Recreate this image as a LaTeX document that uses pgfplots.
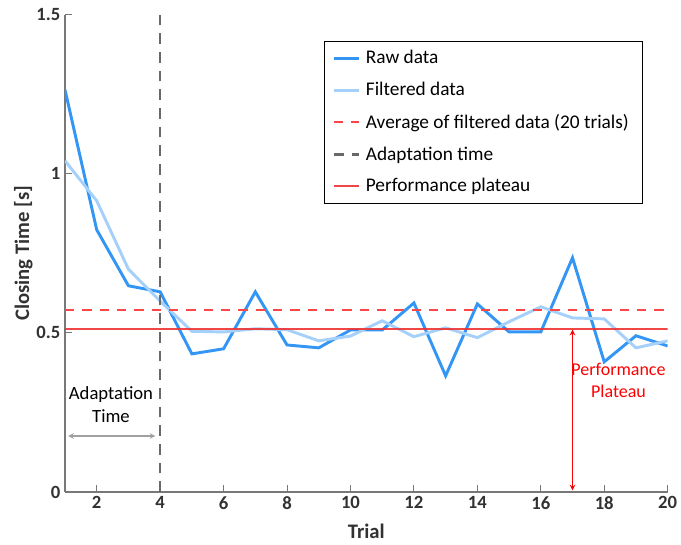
\documentclass[border=0pt]{standalone}
\usepackage{fontspec}
\setmainfont{Carlito}
\usepackage{pgfplots}
\pgfplotsset{compat=1.18}
\definecolor{rawblue}{RGB}{51,150,245}
\definecolor{filtblue}{RGB}{165,208,250}
\definecolor{avgred}{RGB}{255,70,70}
\definecolor{platred}{RGB}{240,50,50}
\definecolor{adgray}{RGB}{105,105,105}
\definecolor{axgray}{RGB}{120,120,120}
\definecolor{ticktext}{RGB}{50,50,50}
\begin{document}
\begin{tikzpicture}
\begin{axis}[
  width=452pt, height=358pt, scale only axis,
  xmin=1, xmax=20, ymin=0, ymax=1.5,
  xtick={2,4,...,20}, ytick={0,0.5,1,1.5},
  yticklabels={0,0.5,1,1.5},
  axis lines=left,
  axis line style={axgray, line width=0.8pt, -},
  tick style={axgray, line width=0.8pt},
  tick align=inside,
  major tick length=5pt,
  /pgf/number format/assume math mode=true,
  tick label style={font=\fontsize{14}{16}\selectfont\bfseries, text=ticktext},
  xlabel={\textbf{Trial}},
  ylabel={\textbf{Closing Time [s]}},
  label style={font=\fontsize{15.5}{17}\selectfont, text=ticktext},
  xlabel style={yshift=-4pt},
  ylabel style={yshift=-4pt},
  legend cell align=left,
  legend style={at={(0.9585,0.9455)}, anchor=north east, draw=black, line width=0.8pt,
    font=\fontsize{14.5}{17}\selectfont, row sep=8.3pt, inner xsep=6pt, inner ysep=5pt,
    nodes={inner xsep=4pt}},
  legend image code/.code={\draw[#1] (0pt,0pt) -- (19pt,0pt);},
]
\addplot[rawblue, line width=2.2pt] coordinates {
(1,1.264) (2,0.824) (3,0.648) (4,0.629) (5,0.434) (6,0.450) (7,0.629) (8,0.462) (9,0.453) (10,0.509)
(11,0.509) (12,0.594) (13,0.365) (14,0.591) (15,0.503) (16,0.503) (17,0.736) (18,0.409) (19,0.491) (20,0.459)};
\addlegendentry{Raw data}
\addplot[filtblue, line width=2.2pt] coordinates {
(1,1.041) (2,0.915) (3,0.700) (4,0.600) (5,0.505) (6,0.503) (7,0.513) (8,0.510) (9,0.475) (10,0.490)
(11,0.538) (12,0.488) (13,0.516) (14,0.485) (15,0.535) (16,0.582) (17,0.547) (18,0.544) (19,0.453) (20,0.475)};
\addlegendentry{Filtered data}
\addplot[avgred, line width=1.8pt, dash pattern=on 7pt off 6pt] coordinates {(1,0.572) (20,0.572)};
\addlegendentry{Average of filtered data (20 trials)}
\addplot[adgray, line width=2pt, dash pattern=on 8pt off 6pt] coordinates {(4,0) (4,1.5)};
\addlegendentry{Adaptation time}
\addplot[platred, line width=1.8pt, opacity=0.9] coordinates {(1,0.513) (20,0.513)};
\addlegendentry{Performance plateau}
\draw[axgray!70, line width=0.9pt, <->, >=stealth] (axis cs:1.1,0.176) -- (axis cs:3.85,0.176);
\node[font=\fontsize{14}{17}\selectfont, align=center] at (axis cs:2.45,0.275) {Adaptation\\Time};
\draw[red, line width=0.9pt, <->, >=stealth] (axis cs:17,0.005) -- (axis cs:17,0.51);
\node[font=\fontsize{13.5}{16.5}\selectfont, align=center, text=red] at (axis cs:18.45,0.35) {Performance\\Plateau};
\end{axis}
\pgfresetboundingbox
\path (-48.75pt,-39.75pt) rectangle (462pt,369pt);
\end{tikzpicture}
\end{document}
